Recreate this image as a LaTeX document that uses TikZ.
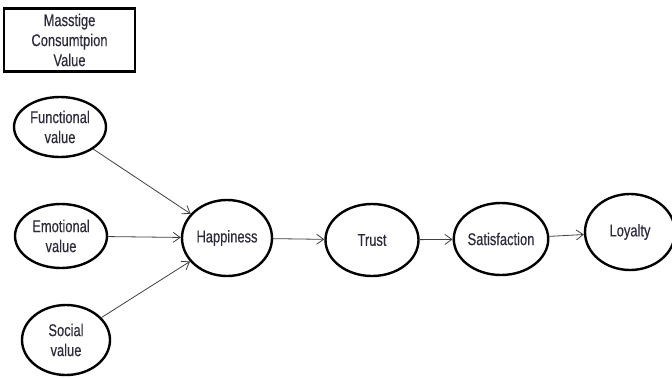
\documentclass[tikz,border=0pt]{standalone}
\usepackage{fontspec}
\setmainfont[FakeStretch=0.76,FakeBold=0.35]{Liberation Sans}
\usetikzlibrary{arrows.meta,shapes.geometric}
\definecolor{txt}{HTML}{2B2B3A}
\begin{document}
\begin{tikzpicture}[x=1pt,y=-1pt,
  var/.style={ellipse,draw=black,line width=2.4pt,minimum width=#1,minimum height=66pt,inner sep=0pt,align=center,font=\fontsize{17}{20}\selectfont,text=txt},
  var/.default=92pt,
  lnk/.style={draw=black!75,line width=0.8pt,-{Straight Barb[length=7pt,width=10pt]}}]
\useasboundingbox (0,0) rectangle (672,378);
\node[draw=black,line width=2.2pt,minimum width=131pt,minimum height=63pt,inner sep=0pt,align=center,font=\fontsize{17}{20}\selectfont,text=txt] (mcv) at (69.5,40) {Masstige\\Consumtpion\\Value};
\node[var,minimum height=60pt] (fun) at (60,127) {Functional\\value};
\node[var,minimum height=64pt] (emo) at (61,236) {Emotional\\value};
\node[var,minimum height=70pt,minimum width=88pt] (soc) at (66,340) {Social\\value};
\node[var,minimum width=90pt,minimum height=76pt] (hap) at (227,238) {Happiness};
\node[var,minimum width=93pt,minimum height=72pt] (tru) at (372,240) {Trust};
\node[var,minimum width=92pt,minimum height=72pt] (sat) at (501,239) {Satisfaction};
\node[var,minimum width=90pt,minimum height=76pt] (loy) at (630,232) {Loyalty};
\draw[lnk] (fun) -- (hap);
\draw[lnk] (emo) -- (hap);
\draw[lnk] (soc) -- (hap);
\draw[lnk] (hap) -- (tru);
\draw[lnk] (tru) -- (sat);
\draw[lnk] (sat) -- (loy);
\end{tikzpicture}
\end{document}
